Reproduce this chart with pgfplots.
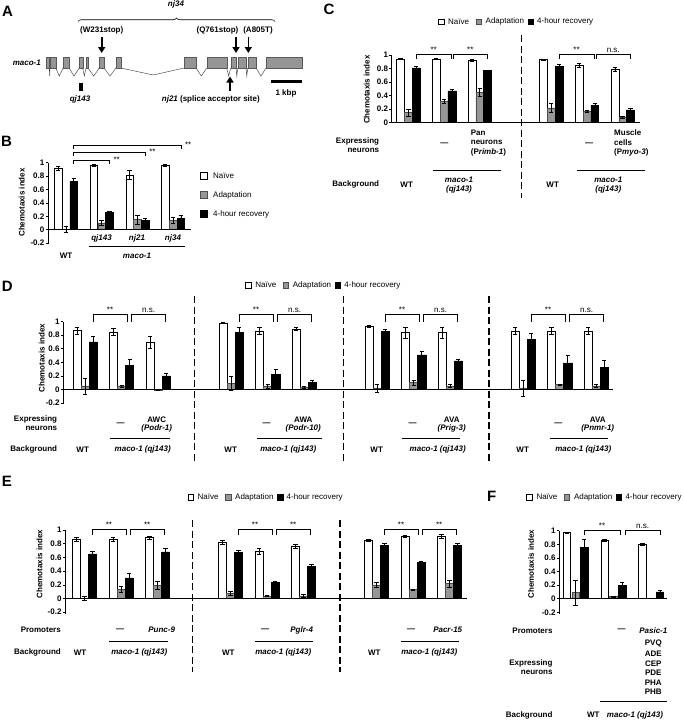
\documentclass[border=0pt]{standalone}
\usepackage{pgfplots}
\pgfplotsset{compat=1.18}
\usepackage{fontspec}
\setmainfont{Liberation Sans}
\usetikzlibrary{decorations.pathreplacing,arrows.meta}
\definecolor{adgray}{RGB}{150,150,150}

\newcommand\f{\fontsize{8}{9.5}\selectfont}
\newcommand\fb{\fontsize{8}{9.5}\selectfont\bfseries}
% text helpers, coordinates in pixels of the reference (y downwards)
\newcommand\Tc[3]{\node[font=\fb,inner sep=0pt] at (#1pt,-#2pt) {#3};}
\newcommand\Tr[3]{\node[font=\fb,inner sep=0pt,anchor=east] at (#1pt,-#2pt) {#3};}
\newcommand\Tl[3]{\node[font=\fb,inner sep=0pt,anchor=west] at (#1pt,-#2pt) {#3};}
\newcommand\Ln[3]{\draw[line width=0.9pt] (#1pt,-#3pt) -- (#2pt,-#3pt);}
\newcommand\Dsh[3]{\draw[line width=1.1pt, dash pattern=on 7pt off 3.5pt] (#1pt,-#2pt) -- (#1pt,-#3pt);}
\newcommand\Yl[2]{\node[font=\fb, rotate=90] at (#1pt,-#2pt) {Chemotaxis index};}
\newcommand\Pl[3]{\node[font=\fontsize{15}{15}\selectfont\bfseries] at (#1pt,-#2pt) {#3};}
\newcommand\Lg[2]{%
  \node[draw=black, fill=white, line width=0.5pt, minimum size=5.5pt, inner sep=0pt] at (#1pt,-#2pt) {};
  \node[font=\f, anchor=west, inner sep=0pt, xshift=7pt] at (#1pt,-#2pt) {Naïve};
  \node[draw=black!70, fill=adgray, line width=0.5pt, minimum size=5.5pt, inner sep=0pt, xshift=37.5pt] at (#1pt,-#2pt) {};
  \node[font=\f, anchor=west, inner sep=0pt, xshift=44.5pt] at (#1pt,-#2pt) {Adaptation};
  \node[draw=black, fill=black, line width=0.5pt, minimum size=5.5pt, inner sep=0pt, xshift=89.5pt] at (#1pt,-#2pt) {};
  \node[font=\f, anchor=west, inner sep=0pt, xshift=96pt] at (#1pt,-#2pt) {4-hour recovery};}
% significance bracket: x1, x2, y, ylow, label
\newcommand\Brk[5]{\draw[line width=0.6pt] (axis cs:#1,#4) |- node[pos=0.75, above, font=\f, inner sep=1.2pt] {#5} (axis cs:#2,#3) -- (axis cs:#2,#4);}
% gene model
\newcommand\Ex[2]{\filldraw[fill=adgray, draw=black!65, line width=0.4pt] (#1pt,-57pt) rectangle (#2pt,-68pt);}
\newcommand\In[4]{\draw[black!75, line width=0.45pt] (#1pt,-68pt) -- (#2pt,-#4pt) -- (#3pt,-68pt);}
\newcommand\Arr[3]{\draw[line width=1.6pt, -{Triangle[length=6pt,width=7pt]}] (#1pt,-#2pt) -- (#1pt,-#3pt);}

\pgfplotsset{
  chemo/.style={scale only axis, clip=false, anchor=south west,
    axis x line=none, axis y line=left, xtick=\empty,
    axis line style={-, line width=0.6pt},
    tick align=outside, major tick length=2.5pt,
    ytick style={line width=0.6pt, black},
    ymin=-0.22, ymax=1,
    ytick={-0.2,0,0.2,0.4,0.6,0.8,1}, yticklabels={-0.2,0,0.2,0.4,0.6,0.8,1},
    yticklabel style={font=\fb, inner sep=1pt},
    ybar, bar width=0.22},
  eb/.style={/pgfplots/error bars/y dir=both, /pgfplots/error bars/y explicit,
    /pgfplots/error bars/error bar style={line width=0.6pt, black},
    /pgfplots/error bars/error mark options={rotate=90, mark size=2.2pt, line width=0.6pt, black}},
  nv/.style={fill=white, draw=black, line width=0.5pt, bar shift=-0.22, eb},
  ad/.style={fill=adgray, draw=black!70, line width=0.5pt, bar shift=0, eb},
  rc/.style={fill=black, draw=black, line width=0.5pt, bar shift=0.22, eb},
}

\begin{document}
\begin{tikzpicture}
\path[use as bounding box] (0,0) rectangle (684pt,-720pt);

%% ---------------- A: gene model ----------------
\Pl{7.5}{11.7}{A}
\node[font=\fb\itshape] at (176pt,-4pt) {nj34};
\draw[line width=0.6pt, decorate, decoration={brace, amplitude=3.5pt}] (78pt,-21.5pt) -- (275pt,-21.5pt);
\Tc{101.7}{30}{(W231stop)}
\Tc{217.5}{30}{(Q761stop)}
\Tc{258}{30}{(A805T)}
\Arr{101.7}{37}{53}
\Arr{236}{37}{53}
\Arr{248.3}{37}{53}
\node[font=\fb\itshape, anchor=east, inner sep=0pt] at (41pt,-62.5pt) {maco-1};
\In{49.3}{49.7}{50}{76}
\In{55.7}{59.3}{63}{76}
\In{69}{74}{79.3}{76}
\In{82.7}{84.3}{86}{76}
\In{88}{93.7}{99.3}{76}
\In{104}{110}{116}{76}
\In{120.7}{153.3}{184}{75}
\In{196}{201.3}{206.7}{76}
\In{226.7}{228.7}{230.7}{76}
\In{236}{236.8}{237.7}{76}
\In{246}{246.8}{247.7}{76}
\In{256}{261}{266}{76}
\Ex{45.7}{49.3}\Ex{50}{55.7}\Ex{63}{69}\Ex{79.3}{82.7}\Ex{86}{88}\Ex{99.3}{104}
\Ex{116}{120.7}\Ex{184}{196}\Ex{206.7}{226.7}\Ex{230.7}{236}\Ex{237.7}{246}
\Ex{247.7}{256}\Ex{266}{301.7}
\fill (78.7pt,-82.7pt) rectangle (83.3pt,-90.7pt);
\node[font=\fb\itshape] at (80pt,-99.5pt) {qj143};
\draw[line width=1.6pt, -{Triangle[length=6pt,width=7pt]}] (230pt,-91pt) -- (230pt,-76.5pt);
\Tc{210.8}{99.5}{\textit{nj21} (splice acceptor site)}
\draw[line width=2.5pt] (270.7pt,-81.7pt) -- (301.7pt,-81.7pt);
\Tc{286}{93}{1 kbp}

%% ---------------- B ----------------
\Pl{6.5}{141}{B}
\begin{axis}[chemo, at={(48pt,-244.4pt)}, width=143pt, height=81.7pt,
  xmin=-0.5, xmax=3.5, bar width=0.21]
\addplot[nv] coordinates {(0,0.91)+-(0,0.03) (1,0.96)+-(0,0.01) (2,0.82)+-(0,0.07) (3,0.96)+-(0,0.01)};
\addplot[ad] coordinates {(0,0.005)+-(0,0.05) (1,0.10)+-(0,0.04) (2,0.15)+-(0,0.07) (3,0.14)+-(0,0.04)};
\addplot[rc] coordinates {(0,0.72)+-(0,0.05) (1,0.26)+-(0,0.01) (2,0.14)+-(0,0.03) (3,0.17)+-(0,0.04)};
\draw[line width=0.6pt] (axis cs:-0.5,0) -- (axis cs:3.5,0);
\draw[line width=0.6pt] (axis cs:0.22,0.98) |- (axis cs:1.22,1.03) -- (axis cs:1.22,0.98);
\draw[line width=0.6pt] (axis cs:0.22,1.10) |- (axis cs:2.22,1.15) -- (axis cs:2.22,1.10);
\draw[line width=0.6pt] (axis cs:0.22,1.21) |- (axis cs:3.22,1.26) -- (axis cs:3.22,1.21);
\node[font=\f, anchor=west, inner sep=1pt] at (axis cs:1.3,1.04) {**};
\node[font=\f, anchor=west, inner sep=1pt] at (axis cs:2.3,1.16) {**};
\node[font=\f, anchor=west, inner sep=1pt] at (axis cs:3.3,1.27) {**};
\end{axis}
\Yl{21.7}{202.5}
\Tc{101.5}{238.5}{\itshape qj143}
\Tc{137}{238.5}{\itshape nj21}
\Tc{173}{238.5}{\itshape nj34}
\Ln{89}{185}{246.7}
\Tc{66}{256}{WT}
\Tc{137}{256}{\itshape maco-1}
\node[draw=black, fill=white, line width=0.5pt, minimum size=7pt, inner sep=0pt] at (203.3pt,-176pt) {};
\node[draw=black!70, fill=adgray, line width=0.5pt, minimum size=7pt, inner sep=0pt] at (203.3pt,-195pt) {};
\node[draw=black, fill=black, line width=0.5pt, minimum size=7pt, inner sep=0pt] at (203.3pt,-214pt) {};
\node[font=\f, anchor=west, inner sep=0pt] at (213pt,-176pt) {Naïve};
\node[font=\f, anchor=west, inner sep=0pt] at (213pt,-195pt) {Adaptation};
\node[font=\f, anchor=west, inner sep=0pt] at (213pt,-214pt) {4-hour recovery};

%% ---------------- C ----------------
\Pl{329}{9.5}{C}
\Lg{441}{21.7}
\begin{axis}[chemo, at={(391.7pt,-122.7pt)}, width=248.3pt, height=67.7pt,
  xmin=-0.465, xmax=6.485, ymin=0, ymax=1,
  ytick={0,0.2,0.4,0.6,0.8,1}, yticklabels={0,0.2,0.4,0.6,0.8,1}]
\addplot[nv] coordinates {(0,0.94)+-(0,0.01) (1,0.94)+-(0,0.01) (2,0.92)+-(0,0.02) (4,0.93)+-(0,0.01) (5,0.85)+-(0,0.03) (6,0.79)+-(0,0.03)};
\addplot[ad] coordinates {(0,0.15)+-(0,0.05) (1,0.32)+-(0,0.03) (2,0.45)+-(0,0.06) (4,0.22)+-(0,0.07) (5,0.17)+-(0,0.01) (6,0.08)+-(0,0.01)};
\addplot[rc] coordinates {(0,0.81)+-(0,0.02) (1,0.47)+-(0,0.02) (2,0.77)+-(0,0.01) (4,0.83)+-(0,0.03) (5,0.26)+-(0,0.02) (6,0.19)+-(0,0.02)};
\draw[line width=0.6pt] (axis cs:-0.465,0) -- (axis cs:6.485,0);
\Brk{0.22}{1.20}{1.01}{0.94}{**}
\Brk{1.25}{2.22}{1.01}{0.94}{**}
\Brk{4.22}{5.20}{1.01}{0.94}{**}
\Brk{5.25}{6.22}{1.01}{0.94}{n.s.}
\end{axis}
\Yl{366.7}{89.7}
\Dsh{521.7}{35}{198}
\Tr{379.3}{141}{Expressing}
\Tr{379.3}{150.7}{neurons}
\Tc{444.3}{144.3}{—}
\Tl{470.7}{133}{Pan}
\Tl{470.7}{142.7}{neurons}
\Tl{470.7}{152.3}{(P\textit{rimb-1})}
\Tc{589}{144.3}{—}
\Tl{614}{133}{Muscle}
\Tl{614}{142.7}{cells}
\Tl{614}{152.3}{(P\textit{myo-3})}
\Tr{379.3}{184.3}{Background}
\Tc{406.7}{184.3}{WT}
\Tc{552.7}{184.3}{WT}
\Ln{432.7}{501}{170.7}
\Tc{459}{179.3}{\itshape maco-1}
\Tc{459}{189}{\itshape (qj143)}
\Ln{576.7}{645}{170.7}
\Tc{608.3}{179.3}{\itshape maco-1}
\Tc{608.3}{189}{\itshape (qj143)}

%% ---------------- D ----------------
\Pl{7.2}{286.7}{D}
\Lg{248.2}{285}
\begin{axis}[chemo, at={(63.3pt,-404.2pt)}, width=549.7pt, height=82.5pt,
  xmin=-0.6, xmax=14.46]
\addplot[nv] coordinates {(0,0.87)+-(0,0.05) (1,0.85)+-(0,0.05) (2,0.70)+-(0,0.09) (4,0.98)+-(0,0.005) (5,0.86)+-(0,0.05) (6,0.89)+-(0,0.02) (8,0.93)+-(0,0.01) (9,0.84)+-(0,0.08) (10,0.84)+-(0,0.08) (12,0.86)+-(0,0.05) (13,0.86)+-(0,0.05) (14,0.86)+-(0,0.05)};
\addplot[ad] coordinates {(0,0.05)+-(0,0.12) (1,0.05)+-(0,0.015) (2,-0.01)+-(0,0.01) (4,0.09)+-(0,0.11) (5,0.05)+-(0,0.03) (6,0.025)+-(0,0.015) (8,0.02)+-(0,0.06) (9,0.10)+-(0,0.04) (10,0.05)+-(0,0.02) (12,0.02)+-(0,0.12) (13,0.07)+-(0,0.01) (14,0.05)+-(0,0.02)};
\addplot[rc] coordinates {(0,0.70)+-(0,0.08) (1,0.35)+-(0,0.09) (2,0.20)+-(0,0.04) (4,0.84)+-(0,0.07) (5,0.22)+-(0,0.08) (6,0.10)+-(0,0.03) (8,0.86)+-(0,0.03) (9,0.51)+-(0,0.05) (10,0.42)+-(0,0.03) (12,0.74)+-(0,0.09) (13,0.39)+-(0,0.11) (14,0.33)+-(0,0.10)};
\draw[line width=0.6pt] (axis cs:-0.6,0) -- (axis cs:14.46,0);
\Brk{0.22}{1.14}{1.114}{0.995}{**}
\Brk{1.27}{2.2}{1.114}{0.995}{n.s.}
\Brk{4.22}{5.14}{1.114}{0.995}{**}
\Brk{5.27}{6.2}{1.114}{0.995}{n.s.}
\Brk{8.22}{9.14}{1.114}{0.995}{**}
\Brk{9.27}{10.2}{1.114}{0.995}{n.s.}
\Brk{12.22}{13.14}{1.114}{0.995}{**}
\Brk{13.27}{14.2}{1.114}{0.995}{n.s.}
\end{axis}
\Yl{41.7}{358}
\Dsh{194.3}{296}{461.7}
\Dsh{343.3}{296}{461.7}
\Dsh{489}{296}{461.7}
\Tr{57.3}{419.3}{Expressing}
\Tr{57.3}{428.7}{neurons}
\Tr{57.3}{449.3}{Background}
\Tc{82.7}{449.3}{WT}
\Tc{120.7}{424}{—}
\Tc{156.7}{419.3}{AWC}
\Tc{156.7}{428.7}{\itshape (Podr-1)}
\Ln{110}{170}{438.3}
\Tc{142.7}{449.3}{\itshape maco-1 (qj143)}
\Tc{230.7}{449.3}{WT}
\Tc{266.7}{424}{—}
\Tc{303.3}{419.3}{AWA}
\Tc{303.3}{428.7}{\itshape (Podr-10)}
\Ln{257.3}{321.7}{438.3}
\Tc{288.3}{449.3}{\itshape maco-1 (qj143)}
\Tc{376.7}{449.3}{WT}
\Tc{412.7}{424}{—}
\Tc{451.7}{419.3}{AVA}
\Tc{451.7}{428.7}{\itshape (Prig-3)}
\Ln{401.7}{460}{438.3}
\Tc{437.7}{449.3}{\itshape maco-1 (qj143)}
\Tc{522.7}{449.3}{WT}
\Tc{558.3}{424}{—}
\Tc{597.7}{419.3}{AVA}
\Tc{597.7}{428.7}{\itshape (Pnmr-1)}
\Ln{550}{608.3}{438.3}
\Tc{583.3}{449.3}{\itshape maco-1 (qj143)}

%% ---------------- E ----------------
\Pl{7}{481.7}{E}
\Lg{190.5}{497}
\begin{axis}[chemo, at={(65.2pt,-613.6pt)}, width=401.5pt, height=83.6pt,
  xmin=-0.53, xmax=10.47]
\addplot[nv] coordinates {(0,0.87)+-(0,0.03) (1,0.86)+-(0,0.03) (2,0.89)+-(0,0.02) (4,0.82)+-(0,0.03) (5,0.69)+-(0,0.04) (6,0.76)+-(0,0.03) (8,0.85)+-(0,0.02) (9,0.91)+-(0,0.01) (10,0.91)+-(0,0.03)};
\addplot[ad] coordinates {(0,0.005)+-(0,0.03) (1,0.135)+-(0,0.05) (2,0.195)+-(0,0.06) (4,0.07)+-(0,0.03) (5,0.04)+-(0,0.01) (6,0.04)+-(0,0.02) (8,0.20)+-(0,0.03) (9,0.13)+-(0,0.01) (10,0.22)+-(0,0.05)};
\addplot[rc] coordinates {(0,0.65)+-(0,0.04) (1,0.30)+-(0,0.07) (2,0.68)+-(0,0.05) (4,0.67)+-(0,0.03) (5,0.24)+-(0,0.01) (6,0.47)+-(0,0.03) (8,0.78)+-(0,0.02) (9,0.53)+-(0,0.02) (10,0.78)+-(0,0.03)};
\draw[line width=0.6pt] (axis cs:-0.53,0) -- (axis cs:10.47,0);
\Brk{0.2}{1.14}{1.01}{0.93}{**}
\Brk{1.25}{2.18}{1.01}{0.93}{**}
\Brk{4.2}{5.14}{1.01}{0.93}{**}
\Brk{5.25}{6.18}{1.01}{0.93}{**}
\Brk{8.2}{9.14}{1.01}{0.93}{**}
\Brk{9.25}{10.18}{1.01}{0.93}{**}
\end{axis}
\Yl{39.5}{564}
\Dsh{192.5}{520}{671.7}
\Dsh{340}{520}{671.7}
\Tr{61}{630}{Promoters}
\Tr{61}{652.7}{Background}
\Tc{80}{652.7}{WT}
\Tc{120}{630}{—}
\Tc{161.7}{630}{\itshape Punc-9}
\Ln{109.3}{167.7}{641.3}
\Tc{139.3}{652.7}{\itshape maco-1 (qj143)}
\Tc{228.3}{652.7}{WT}
\Tc{265}{630}{—}
\Tc{301.7}{630}{\itshape Pglr-4}
\Ln{255}{313.3}{641.3}
\Tc{283.3}{652.7}{\itshape maco-1 (qj143)}
\Tc{374.3}{652.7}{WT}
\Tc{411}{630}{—}
\Tc{447.7}{630}{\itshape Pacr-15}
\Ln{401}{459.3}{641.3}
\Tc{429.3}{652.7}{\itshape maco-1 (qj143)}

%% ---------------- F ----------------
\Pl{491.7}{496.7}{F}
\Lg{529.3}{497}
\begin{axis}[chemo, at={(559.3pt,-613.7pt)}, width=107.4pt, height=83pt,
  xmin=-0.43, xmax=2.41, bar width=0.2]
\addplot[nv, bar shift=-0.23] coordinates {(0,0.97)+-(0,0.01) (1,0.86)+-(0,0.02) (2,0.80)+-(0,0.02)};
\addplot[ad] coordinates {(0,0.09)+-(0,0.18) (1,0.03)+-(0,0.01) (2,0.005)+-(0,0.003)};
\addplot[rc, bar shift=0.23] coordinates {(0,0.75)+-(0,0.12) (1,0.20)+-(0,0.04) (2,0.10)+-(0,0.02)};
\draw[line width=0.6pt] (axis cs:-0.43,0) -- (axis cs:2.41,0);
\Brk{0.22}{1.18}{1.01}{0.93}{**}
\Brk{1.31}{2.24}{1.01}{0.93}{n.s.}
\end{axis}
\Yl{531}{564}
\Tr{552.7}{630.3}{Promoters}
\Tc{621.7}{630.3}{—}
\Tc{653.3}{630.3}{\itshape Pasic-1}
\Tc{653.3}{643.3}{PVQ}
\Tc{653.3}{653.3}{ADE}
\Tc{653.3}{663.3}{CEP}
\Tc{653.3}{672.7}{PDE}
\Tc{653.3}{682.7}{PHA}
\Tc{653.3}{691.7}{PHB}
\Tr{552.7}{663.3}{Expressing}
\Tr{552.7}{672.7}{neurons}
\Ln{600}{666.7}{701.7}
\Tr{552.7}{715}{Background}
\Tc{593.3}{715}{WT}
\Tc{635}{715}{\itshape maco-1 (qj143)}
\end{tikzpicture}
\end{document}
